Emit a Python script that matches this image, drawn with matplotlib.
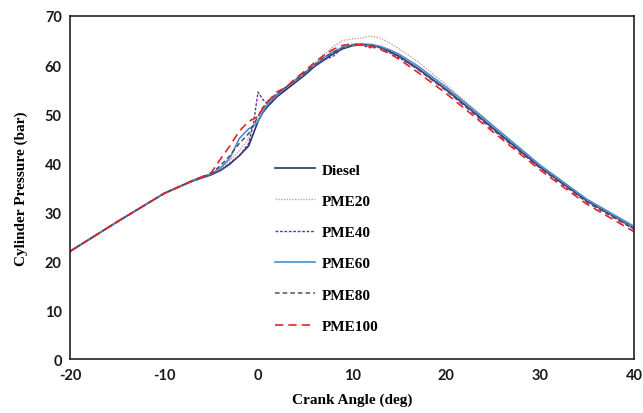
import matplotlib
matplotlib.use("Agg")
import matplotlib.pyplot as plt

plt.rcParams["axes.unicode_minus"] = False

# crank angle grid (deg)
angle = [-20, -15, -10, -7, -5, -4, -3, -2, -1, -0.5, 0, 0.5, 1, 2, 3, 4, 5, 6, 7, 8, 9, 10,
         11, 12, 13, 14, 15, 17, 20, 23, 26, 30, 35, 40]

# cylinder pressure (bar)
diesel = [22.0, 28.0, 33.8, 36.3, 37.6, 38.5, 39.8, 41.5, 43.5, 46.0, 48.5, 50.3, 51.5, 53.5, 55.0, 56.5, 58.0, 59.7, 61.0, 62.3, 63.3, 63.9,
          64.2, 64.1, 63.6, 62.8, 61.8, 59.3, 55.0, 50.3, 45.5, 39.2, 32.3, 26.8]
pme20 = [22.0, 28.0, 33.8, 36.4, 37.8, 38.8, 40.5, 42.5, 45.0, 47.5, 49.5, 51.0, 52.0, 54.0, 55.5, 57.0, 58.5, 60.3, 62.0, 63.8, 65.0, 65.3,
         65.5, 65.9, 65.5, 64.5, 63.3, 60.7, 56.0, 51.0, 46.0, 39.5, 32.5, 26.8]
pme40 = [22.0, 28.0, 33.8, 36.4, 37.8, 38.5, 40.0, 41.5, 44.0, 48.0, 54.5, 53.0, 52.0, 53.5, 55.5, 57.0, 58.5, 59.7, 61.0, 61.8, 63.5, 64.2,
         64.0, 63.5, 63.7, 62.5, 61.5, 59.2, 55.0, 50.3, 45.4, 39.1, 32.2, 26.6]
pme60 = [22.0, 28.0, 33.8, 36.4, 37.8, 39.0, 41.0, 45.0, 47.0, 47.5, 48.5, 50.5, 52.0, 54.0, 55.5, 57.0, 58.5, 60.0, 61.5, 62.7, 63.6, 64.0,
         64.2, 64.2, 63.8, 63.1, 62.2, 59.8, 55.5, 50.8, 46.0, 39.6, 32.6, 27.1]
pme80 = [22.0, 28.0, 33.8, 36.4, 37.8, 39.5, 41.5, 44.0, 46.0, 47.8, 49.5, 51.3, 52.5, 54.2, 55.5, 57.0, 58.5, 60.0, 61.5, 62.6, 63.5, 64.0,
         64.2, 64.0, 63.5, 62.7, 61.7, 59.1, 54.8, 50.0, 45.2, 39.0, 32.0, 26.5]
pme100 = [22.0, 28.0, 33.8, 36.4, 38.0, 40.8, 43.5, 46.5, 48.5, 49.0, 49.5, 51.2, 52.5, 54.5, 55.5, 57.3, 58.8, 60.5, 62.0, 63.2, 64.0, 64.3,
          64.2, 63.8, 63.2, 62.3, 61.2, 58.5, 54.2, 49.5, 44.8, 38.6, 31.6, 26.0]

fig = plt.figure(figsize=(6.43, 4.14), dpi=100)
ax = fig.add_axes([0.109, 0.130, 0.877, 0.829])

ax.plot(angle, diesel, color="#1f3864", lw=1.2, label="Diesel")
ax.plot(angle, pme20, color="#c9a0a8", lw=1.0, ls=(0, (1, 1)), label="PME20")
ax.plot(angle, pme40, color="#7030a0", lw=1.0, ls=(0, (2, 1.2)), label="PME40")
ax.plot(angle, pme60, color="#4a8fc8", lw=1.2, label="PME60")
ax.plot(angle, pme80, color="#44546a", lw=1.1, ls=(0, (3, 2)), label="PME80")
ax.plot(angle, pme100, color="#e8202a", lw=1.2, ls=(0, (5, 3)), label="PME100")

ax.set_xlim(-20, 40)
ax.set_ylim(0, 70)
ax.set_xticks(range(-20, 41, 10))
ax.set_yticks(range(0, 71, 10))
ax.tick_params(length=0, pad=6)
for lab in ax.get_xticklabels() + ax.get_yticklabels():
    lab.set_fontfamily("Lato")
    lab.set_fontweight("bold")
    lab.set_fontsize(10.5)
    lab.set_color("#1a1a1a")
for s in ax.spines.values():
    s.set_linewidth(1.2)
    s.set_color("#222222")

ax.set_xlabel("Crank Angle (deg)", family="Liberation Serif", weight="bold", fontsize=11, labelpad=8)
ax.set_ylabel("Cylinder Pressure (bar)", family="Liberation Serif", weight="bold", fontsize=11, labelpad=12)

ax.legend(loc="upper left", bbox_to_anchor=(0.339, 0.612), frameon=False,
          prop={"family": "Liberation Serif", "weight": "bold", "size": 11},
          handlelength=2.6, handletextpad=0.45, labelspacing=1.15)

fig.savefig("out.png", dpi=100)
